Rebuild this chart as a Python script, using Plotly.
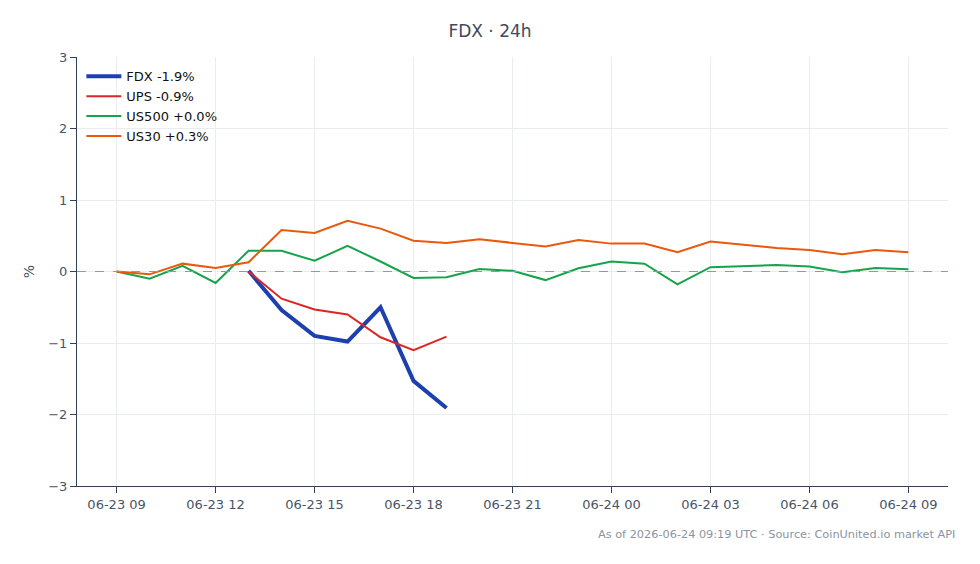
import plotly.graph_objects as go
import pandas as pd

times = pd.date_range("2026-06-23 09:00", "2026-06-24 09:00", freq="h")

us30 = [0.0, -0.04, 0.11, 0.05, 0.13, 0.58, 0.54, 0.71, 0.60, 0.43, 0.40, 0.45,
        0.40, 0.35, 0.44, 0.39, 0.39, 0.27, 0.42, 0.37, 0.33, 0.30, 0.24, 0.30, 0.27]
us500 = [0.0, -0.10, 0.08, -0.16, 0.29, 0.29, 0.15, 0.36, 0.14, -0.09, -0.08, 0.035,
         0.01, -0.12, 0.045, 0.14, 0.11, -0.18, 0.06, 0.08, 0.09, 0.07, -0.01, 0.05, 0.03]
fdx = [0.01, -0.54, -0.90, -0.98, -0.50, -1.53, -1.91]
ups = [0.0, -0.38, -0.53, -0.60, -0.92, -1.10, -0.91]
fdx_times = times[4:11]
ups_times = times[4:11]

names = ["FDX -1.9%", "UPS -0.9%", "US500 +0.0%", "US30 +0.3%"]
colors = ["#1e40af", "#dc2626", "#16a34a", "#ea580c"]
widths = [4, 2, 2, 2]

fig = go.Figure()
fig.add_trace(go.Scatter(x=fdx_times, y=fdx, mode="lines", name=names[0],
                         line=dict(color=colors[0], width=widths[0])))
fig.add_trace(go.Scatter(x=ups_times, y=ups, mode="lines", name=names[1],
                         line=dict(color=colors[1], width=widths[1])))
fig.add_trace(go.Scatter(x=times, y=us500, mode="lines", name=names[2],
                         line=dict(color=colors[2], width=widths[2])))
fig.add_trace(go.Scatter(x=times, y=us30, mode="lines", name=names[3],
                         line=dict(color=colors[3], width=widths[3])))

fig.add_hline(y=0, line=dict(color="#8b98b8", width=1, dash="dash"))

fig.update_layout(
    width=980, height=564,
    margin=dict(l=77, r=32, t=57, b=78),
    paper_bgcolor="white", plot_bgcolor="white",
    font=dict(family="DejaVu Sans", size=13, color="#475569"),
    title=dict(text="FDX · 24h", x=0.5, xanchor="center", y=0.945, yanchor="middle",
               font=dict(size=17, color="#3f4a5c")),
    showlegend=True,
    legend=dict(x=0.005, y=0.99, xanchor="left", yanchor="top", bgcolor="rgba(0,0,0,0)",
                font=dict(size=13, color="#111111"), tracegroupgap=0, itemwidth=35),
    xaxis=dict(range=[pd.Timestamp("2026-06-23 07:48"), pd.Timestamp("2026-06-24 10:12")],
               tickformat="%m-%d %H", dtick=3 * 3600 * 1000,
               tick0="2026-06-23 09:00",
               showgrid=True, gridcolor="#e9ecf1", gridwidth=1,
               showline=True, linecolor="#334155", linewidth=1,
               ticks="outside", ticklen=6, tickcolor="#334155",
               zeroline=False, tickfont=dict(size=13, color="#475569")),
    yaxis=dict(range=[-3, 3], dtick=1, title=dict(text="%", standoff=10, font=dict(size=14)),
               showgrid=True, gridcolor="#e9ecf1", gridwidth=1,
               showline=True, linecolor="#334155", linewidth=1,
               ticks="outside", ticklen=6, tickcolor="#334155",
               zeroline=False, tickfont=dict(size=13, color="#475569")),
)

fig.add_annotation(text="As of 2026-06-24 09:19 UTC · Source: CoinUnited.io market API",
                   xref="paper", yref="paper", x=1.01, y=-0.112, xanchor="right", yanchor="middle",
                   showarrow=False, font=dict(size=11.3, color="#8a94a3"))

fig.write_html("out.html")
